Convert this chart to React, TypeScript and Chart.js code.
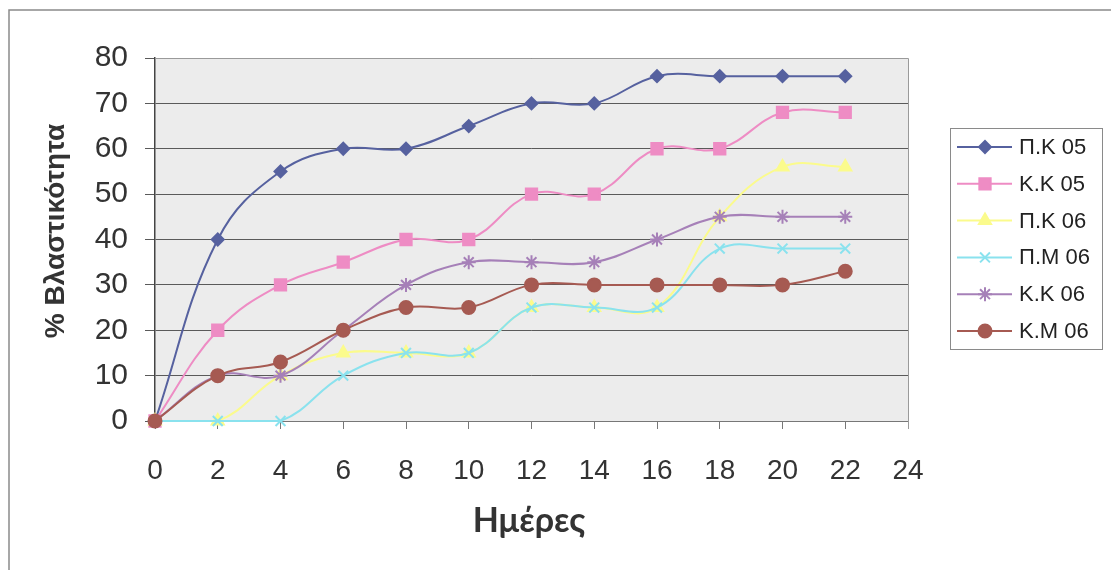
import { useEffect, useRef } from "react";
import { Chart, registerables } from "chart.js";
import { drawPoint } from "chart.js/helpers";

Chart.register(...registerables);

// Days of measurement
const days = [0, 2, 4, 6, 8, 10, 12, 14, 16, 18, 20, 22];

// Germination percentage per sample
const pk05 = [0, 40, 55, 60, 60, 65, 70, 70, 76, 76, 76, 76];
const kk05 = [0, 20, 30, 35, 40, 40, 50, 50, 60, 60, 68, 68];
const pk06 = [0, 0, 10, 15, 15, 15, 25, 25, 25, 45, 56, 56];
const pm06 = [0, 0, 0, 10, 15, 15, 25, 25, 25, 38, 38, 38];
const kk06 = [0, 10, 10, 20, 30, 35, 35, 35, 40, 45, 45, 45];
const km06 = [0, 10, 13, 20, 25, 25, 30, 30, 30, 30, 30, 33];

const seriesNames = ["Π.Κ 05", "Κ.Κ 05", "Π.Κ 06", "Π.Μ 06", "Κ.Κ 06", "Κ.Μ 06"];
const seriesValues = [pk05, kk05, pk06, pm06, kk06, km06];
const seriesColors = ["#56619f", "#ee8cc4", "#fbfb8c", "#8ae2ee", "#a680b8", "#a65a52"];
const seriesMarkers = ["rectRot", "rect", "triangle", "crossRot", "star", "circle"];
const markerRadius = [6, 8, 7, 7, 7, 6.5];

const yAxisTitle = "% Βλαστικότητα";
const xAxisTitle = "Ημέρες";

const W = 1111;
const H = 570;

const decorations = {
  id: "decorations",
  beforeDraw(chart: any) {
    const { ctx, chartArea } = chart;
    ctx.save();
    ctx.fillStyle = "#ffffff";
    ctx.fillRect(0, 0, W, H);
    // outer frame
    ctx.strokeStyle = "#8a8a8a";
    ctx.lineWidth = 1.5;
    ctx.beginPath();
    ctx.moveTo(9, H);
    ctx.lineTo(9, 10);
    ctx.lineTo(W, 10);
    ctx.stroke();
    // plot background
    ctx.fillStyle = "#ececec";
    ctx.fillRect(chartArea.left, chartArea.top, chartArea.right - chartArea.left, chartArea.bottom - chartArea.top);
    ctx.restore();
  },
  afterDraw(chart: any) {
    const { ctx, chartArea } = chart;
    ctx.save();
    // plot border (top / right)
    ctx.strokeStyle = "#9a9a9a";
    ctx.lineWidth = 1;
    ctx.beginPath();
    ctx.moveTo(chartArea.left, chartArea.top + 0.5);
    ctx.lineTo(chartArea.right + 0.5, chartArea.top + 0.5);
    ctx.lineTo(chartArea.right + 0.5, chartArea.bottom + 8);
    ctx.stroke();

    // axis titles
    ctx.fillStyle = "#333333";
    ctx.textAlign = "center";
    ctx.textBaseline = "middle";
    ctx.font = "bold 28px 'Liberation Sans', Arial, sans-serif";
    ctx.translate(56, 231);
    ctx.rotate(-Math.PI / 2);
    ctx.fillText(yAxisTitle, 0, 0);
    ctx.setTransform(1, 0, 0, 1, 0, 0);
    ctx.font = "bold 34px Lato, 'Open Sans', sans-serif";
    ctx.fillText(xAxisTitle, 529, 521);

    // legend
    const lx = 950.5, ly = 128.5, lw = 152, lh = 221;
    ctx.strokeStyle = "#8a8a8a";
    ctx.lineWidth = 1;
    ctx.fillStyle = "#ffffff";
    ctx.fillRect(lx, ly, lw, lh);
    ctx.strokeRect(lx, ly, lw, lh);
    ctx.font = "22px 'Liberation Sans', Arial, sans-serif";
    ctx.textAlign = "left";
    seriesNames.forEach((name, i) => {
      const y = 147 + i * 36.8;
      ctx.strokeStyle = seriesColors[i];
      ctx.fillStyle = seriesColors[i];
      ctx.lineWidth = 2;
      ctx.beginPath();
      ctx.moveTo(957, y);
      ctx.lineTo(1012, y);
      ctx.stroke();
      drawPoint(ctx, { pointStyle: seriesMarkers[i], rotation: 0, radius: markerRadius[i], borderWidth: 2 } as any, 985, y);
      ctx.fillStyle = "#222222";
      ctx.fillText(name, 1019, y + 1);
    });
    ctx.restore();
  },
};

export default function App() {
  const ref = useRef<HTMLCanvasElement | null>(null);

  useEffect(() => {
    document.body.style.margin = "0";
    const canvas = ref.current;
    if (!canvas) return;
    const datasets = seriesNames.map((name, i) => ({
      label: name,
      data: days.map((d, k) => ({ x: d, y: seriesValues[i][k] })),
      borderColor: seriesColors[i],
      backgroundColor: seriesColors[i],
      pointBackgroundColor: seriesColors[i],
      pointBorderColor: seriesColors[i],
      pointStyle: seriesMarkers[i],
      pointRadius: markerRadius[i],
      pointBorderWidth: 2,
      borderWidth: 2,
      tension: 0.4,
      order: seriesNames.length - 1 - i,
      clip: false as any,
    }));
    const chart = new Chart(canvas, {
      type: "line",
      data: { datasets },
      plugins: [decorations],
      options: {
        responsive: false,
        animation: false,
        devicePixelRatio: 1,
        layout: { padding: { left: 0, right: 203, top: 58, bottom: 0 } },
        plugins: { legend: { display: false }, tooltip: { enabled: false } },
        scales: {
          x: {
            type: "linear",
            min: 0,
            max: 24,
            afterFit: (s: any) => { s.height = 149; },
            ticks: {
              stepSize: 2,
              color: "#333333",
              padding: 25,
              font: { family: "'Liberation Sans', Arial, sans-serif", size: 28 },
            },
            grid: { drawOnChartArea: false, tickLength: 8, color: "#777777" },
            border: { color: "#777777" },
          },
          y: {
            min: 0,
            max: 80,
            afterFit: (s: any) => { s.width = 155; },
            ticks: {
              stepSize: 10,
              color: "#333333",
              padding: 17,
              font: { family: "'Liberation Sans', Arial, sans-serif", size: 30 },
            },
            grid: { color: "#5a5a5a", lineWidth: 1, tickLength: 10 },
            border: { color: "#444444", width: 1.5 },
          },
        },
      },
    });
    return () => chart.destroy();
  }, []);

  return (
    <div style={{ position: "absolute", left: 0, top: 0, width: W, height: H }}>
      <canvas ref={ref} width={W} height={H} style={{ width: W, height: H, display: "block" }} />
    </div>
  );
}
